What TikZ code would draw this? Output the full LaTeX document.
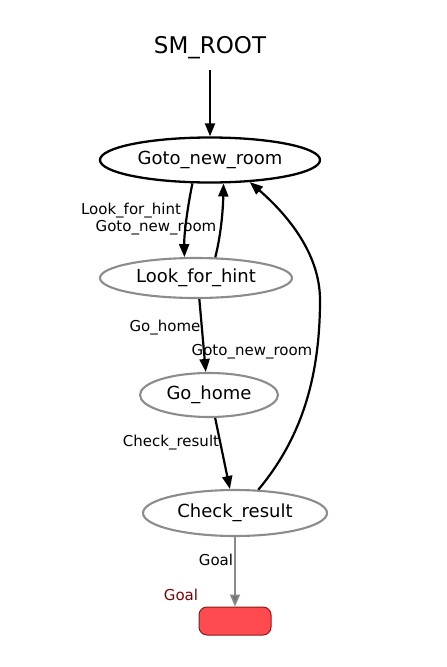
\documentclass[tikz,border=0pt]{standalone}
\usepackage{fontspec}
\setmainfont{DejaVu Sans}
\usetikzlibrary{shapes.geometric,arrows.meta}
\definecolor{stgray}{HTML}{8C8C8C}
\definecolor{goalfill}{HTML}{FF4A50}
\definecolor{goaldraw}{HTML}{8B1A1A}
\definecolor{goallbl}{HTML}{7F0000}
\definecolor{goalarrow}{HTML}{8A8A8A}
\begin{document}
\begin{tikzpicture}[x=1pt,y=-1pt,
  state/.style={ellipse, draw=stgray, line width=2.1pt, inner sep=0pt, font=\fontsize{18}{21}\selectfont},
  trans/.style={line width=2.2pt, -{Triangle[length=13pt,width=10pt]}},
  lbl/.style={font=\fontsize{15}{18}\selectfont, inner sep=0pt}]
\useasboundingbox (0,0) rectangle (447,667);
\fill[white] (0,0) rectangle (447,667);
\node[font=\fontsize{23}{27}\selectfont, inner sep=0pt] (root) at (210,48) {SM\_ROOT};
\node[state, draw=black, line width=2.3pt, minimum width=220pt, minimum height=45pt] (goto) at (210,160) {Goto\_new\_room};
\node[state, minimum width=192pt, minimum height=40pt] (lfh) at (196,278) {Look\_for\_hint};
\node[state, minimum width=138pt, minimum height=44pt] (gh) at (209,395) {Go\_home};
\node[state, minimum width=184pt, minimum height=46pt] (cr) at (235,513) {Check\_result};
\node[draw=goaldraw, fill=goalfill, rounded corners=8pt, line width=1pt, minimum width=72pt, minimum height=28pt, inner sep=0pt] (goal) at (235,621) {};
\node[lbl, text=goallbl] (goallabel) at (181,595) {Goal};
\coordinate (rootout) at (210,70);
\draw[trans] (rootout) -- (goto.north);
\draw[trans] (goto.-127) .. controls (187,210) and (184,235) .. (lfh.119);
\draw[trans] (lfh.47) .. controls (221,235) and (223,210) .. (goto.-60);
\draw[trans] (lfh.-81) -- (gh.98);
\draw[trans] (gh.-75) -- (cr.102);
\draw[trans] (cr.45) .. controls (300,440) and (320,380) .. (320,300) .. controls (320,250) and (282,210) .. (goto.-29);
\draw[line width=1.7pt, draw=goalarrow, -{Triangle[length=12pt,width=10pt,fill=gray!90!black]}] (cr.south) -- (goal.north);
\node[lbl] (l1) at (131,211) {Look\_for\_hint};
\node[lbl] (l2) at (156,228) {Goto\_new\_room};
\node[lbl] (l3) at (165,328) {Go\_home};
\node[lbl] (l4) at (252,352) {Goto\_new\_room};
\node[lbl] (l5) at (171,443) {Check\_result};
\node[lbl] (l6) at (216,560) {Goal};
\end{tikzpicture}
\end{document}
